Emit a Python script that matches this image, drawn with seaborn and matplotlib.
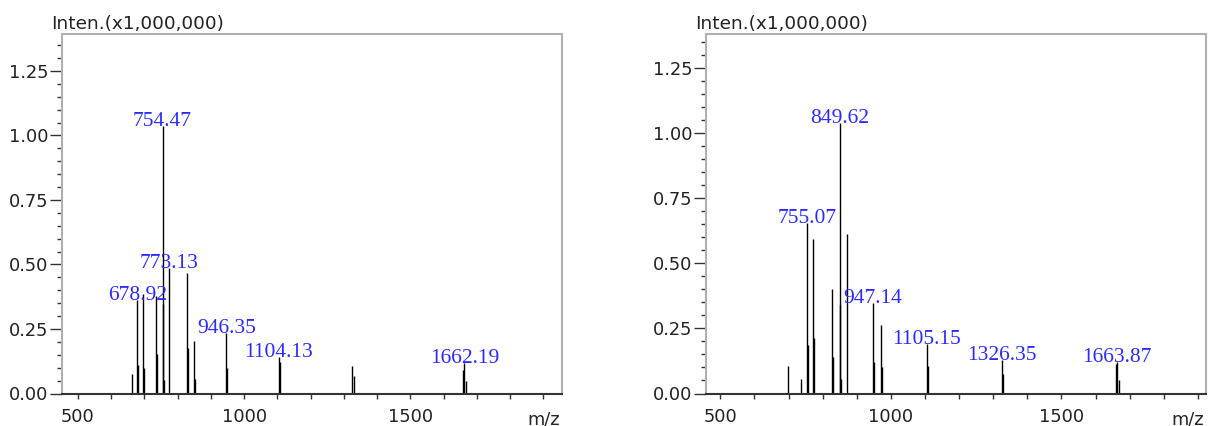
import numpy as np
import pandas as pd
import seaborn as sns
import matplotlib.pyplot as plt
from matplotlib.ticker import MultipleLocator, FormatStrFormatter

# Left spectrum: peak m/z and intensity (x1,000,000)
left_mz = [663.5, 678.92, 681.5, 696.6, 699.6, 735.6, 738.7, 754.47, 756.0, 758.8,
           773.13, 828.8, 831.0, 849.9, 852.9, 946.35, 949.0, 1104.13, 1107.3,
           1324.8, 1329.9, 1658.4, 1662.19, 1667.4]
left_int = [0.076, 0.363, 0.111, 0.386, 0.097, 0.376, 0.154, 1.037, 0.347, 0.053,
            0.487, 0.467, 0.177, 0.204, 0.057, 0.235, 0.100, 0.142, 0.122,
            0.107, 0.069, 0.092, 0.119, 0.049]
left_labels = [678.92, 754.47, 773.13, 946.35, 1104.13, 1662.19]

# Right spectrum
right_mz = [697.7, 737.5, 755.07, 758.0, 772.7, 775.7, 828.4, 830.5, 849.62, 851.0,
            854.8, 872.4, 947.14, 951.6, 972.1, 975.1, 1105.15, 1110.0,
            1326.35, 1329.9, 1659.5, 1663.87, 1670.0]
right_int = [0.105, 0.055, 0.654, 0.186, 0.592, 0.213, 0.401, 0.140, 1.038, 0.340,
             0.056, 0.613, 0.348, 0.120, 0.263, 0.102, 0.192, 0.105,
             0.128, 0.074, 0.113, 0.122, 0.051]
right_labels = [755.07, 849.62, 947.14, 1105.15, 1326.35, 1663.87]

y_ticks = [0.0, 0.25, 0.5, 0.75, 1.0, 1.25]
x_ticks = [500, 1000, 1500]

sns.set_style("ticks")
plt.rcParams['font.family'] = ['DejaVu Sans']

W, H = 1210, 426
fig = plt.figure(figsize=(W / 100, H / 100), dpi=100)

panels = [
    (left_mz, left_int, left_labels, (62, 561.7), (452, 1955), 1.392),
    (right_mz, right_int, right_labels, (705.7, 1206), (457, 1924), 1.38),
]

for mz, inten, labels, (px0, px1), xlim, ytop in panels:
    bottom_px, top_px = 393.5, 34.3
    ax = fig.add_axes([px0 / W, 1 - bottom_px / H, (px1 - px0) / W, (bottom_px - top_px) / H])
    df = pd.DataFrame({'mz': mz, 'inten': inten})
    ax.vlines(df['mz'], 0, df['inten'], color='black', linewidth=1.0)

    # blue m/z labels sitting on top of the main peaks
    for lab in labels:
        h = df.loc[np.isclose(df['mz'], lab), 'inten'].iloc[0]
        ax.text(lab, h, f'{lab:.2f}', ha='center', va='baseline', color='#2a2aff',
                fontsize=15.5, family=['Liberation Serif'])

    ax.set_xlim(*xlim)
    ax.set_ylim(0, ytop)
    ax.set_xticks(x_ticks)
    ax.xaxis.set_minor_locator(MultipleLocator(100))
    ax.set_yticks(y_ticks)
    ax.yaxis.set_minor_locator(MultipleLocator(0.05))
    ax.yaxis.set_major_formatter(FormatStrFormatter('%.2f'))

    ax.tick_params(axis='y', which='major', length=8.6, width=1, pad=1,
                   color='#333333', labelcolor='#222222', labelsize=12.8)
    ax.tick_params(axis='y', which='minor', length=3.6, width=1, color='#333333')
    ax.tick_params(axis='x', which='both', length=3.6, width=1, color='#333333')
    ax.tick_params(axis='x', which='major', pad=6.5, labelcolor='#222222', labelsize=12.8)

    for side in ['left', 'top', 'right']:
        ax.spines[side].set_color('#b0b0b0')
        ax.spines[side].set_linewidth(1.5)
    ax.spines['bottom'].set_color('#333333')
    ax.spines['bottom'].set_linewidth(1.5)

    fig.text((px0 - 11) / W, 1 - 29.3 / H, 'Inten.(x1,000,000)', ha='left', va='baseline',
             fontsize=13.3, color='#222222')
    fig.text((px1 - 2) / W, 1 - 424 / H, 'm/z', ha='right', va='baseline',
             fontsize=12.8, color='#222222')

fig.savefig('out.png', dpi=100)
plt.close()
